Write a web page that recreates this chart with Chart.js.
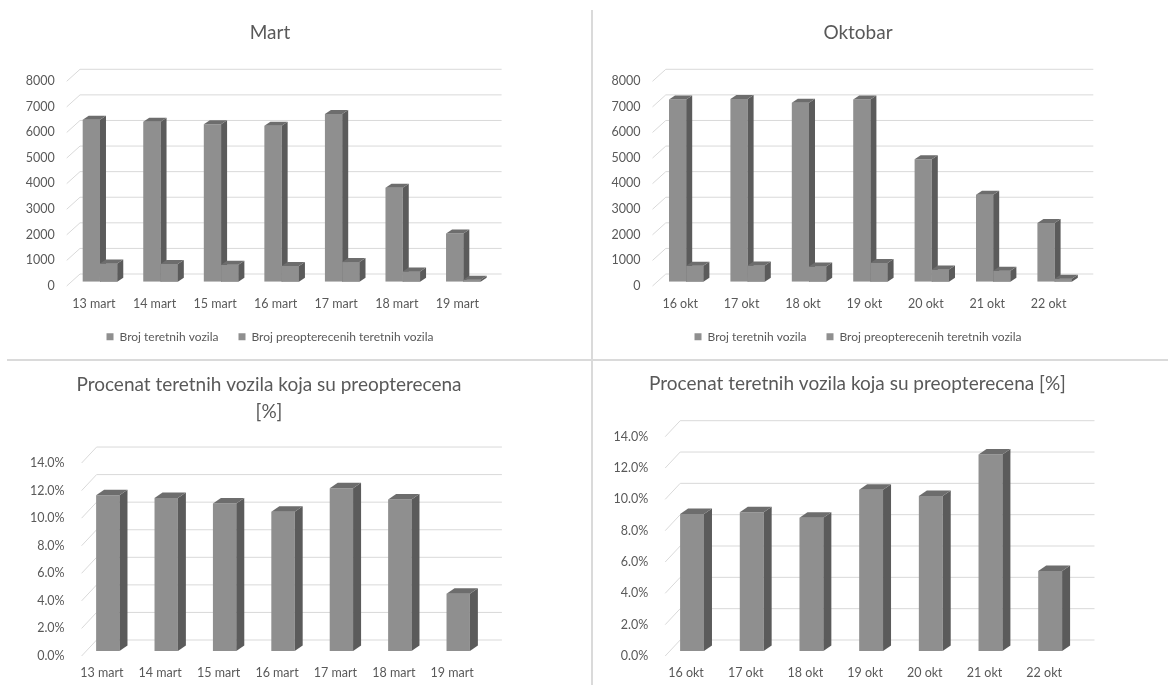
<!DOCTYPE html>
<html>
<head>
<meta charset="utf-8">
<script src="https://cdn.jsdelivr.net/npm/chart.js@4.4.1/dist/chart.umd.min.js"></script>
<style>
  html, body { margin: 0; padding: 0; background: #fff; }
  body { width: 1168px; height: 685px; position: relative; overflow: hidden; }
  .panel { position: absolute; }
  .panel canvas { display: block; }
  .sep { position: absolute; background: #dadada; }
</style>
</head>
<body>
<div class="sep" style="left:591px; top:10px; width:2px; height:675px;"></div>
<div class="sep" style="left:7px; top:359px; width:1161px; height:2px;"></div>

<div class="panel" style="left:0; top:0;"><canvas id="martCount" width="540" height="358"></canvas></div>
<div class="panel" style="left:592px; top:0;"><canvas id="oktCount" width="532" height="358"></canvas></div>
<div class="panel" style="left:0; top:362px;"><canvas id="martShare" width="538" height="323"></canvas></div>
<div class="panel" style="left:592px; top:362px;"><canvas id="oktShare" width="531" height="323"></canvas></div>

<script>
// ---- data ----
const martDays = ['13 mart', '14 mart', '15 mart', '16 mart', '17 mart', '18 mart', '19 mart'];
const martTrucks = [6330, 6250, 6150, 6090, 6550, 3670, 1880];
const martOverloaded = [712, 694, 658, 615, 768, 403, 78];
const martPercent = [11.3, 11.1, 10.7, 10.1, 11.8, 11.0, 4.15];

const oktDays = ['16 okt', '17 okt', '18 okt', '19 okt', '20 okt', '21 okt', '22 okt'];
const oktTrucks = [7120, 7140, 6990, 7120, 4790, 3400, 2290];
const oktOverloaded = [622, 630, 592, 733, 474, 428, 117];
const oktPercent = [8.75, 8.85, 8.5, 10.3, 9.9, 12.55, 5.1];

const countTicks = { max: 8000, step: 1000 };
const percentTicks = { max: 14, step: 2 };

const seriesNames = ['Broj teretnih vozila', 'Broj preopterecenih teretnih vozila'];
const titles = {
  mart: 'Mart',
  okt: 'Oktobar',
  martShare: ['Procenat teretnih vozila koja su preopterecena', '[%]'],
  oktShare: 'Procenat teretnih vozila koja su preopterecena [%]'
};

// ---- style ----
const TEXT = '#595959';
const FRONT = '#8f8f8f';
const SIDE = '#5b5b5b';
const TOP = '#6d6d6d';
const GRID = '#d9d9d9';
Chart.defaults.font.family = 'Lato, "Open Sans", sans-serif';
Chart.defaults.color = TEXT;

function drawFaces(ctx, bar, dx, dy) {
  const p = bar.getProps(['x', 'y', 'base', 'width'], true);
  const l = p.x - p.width / 2, r = p.x + p.width / 2;
  const top = Math.min(p.y, p.base), bot = Math.max(p.y, p.base);
  ctx.fillStyle = SIDE;
  ctx.beginPath();
  ctx.moveTo(r, top); ctx.lineTo(r + dx, top + dy);
  ctx.lineTo(r + dx, bot + dy); ctx.lineTo(r, bot);
  ctx.closePath(); ctx.fill();
  ctx.fillStyle = TOP;
  ctx.beginPath();
  ctx.moveTo(l, top); ctx.lineTo(l + dx, top + dy);
  ctx.lineTo(r + dx, top + dy); ctx.lineTo(r, top);
  ctx.closePath(); ctx.fill();
}

// Pseudo-3D: back-wall gridlines with a receding edge, plus side/top faces on each bar
const depth3d = {
  id: 'depth3d',
  beforeDatasetsDraw(chart, args, o) {
    const { ctx, chartArea: a, scales: { y } } = chart;
    ctx.save();
    ctx.strokeStyle = GRID;
    ctx.lineWidth = 1;
    y.ticks.forEach(t => {
      const py = y.getPixelForValue(t.value);
      const wy = py + o.wallDy;
      ctx.beginPath();
      ctx.moveTo(a.left + o.edgeX, py + o.edgeY);
      ctx.lineTo(a.left + o.wallLeft, wy);
      ctx.lineTo(a.right + o.wallRight, wy);
      ctx.stroke();
    });
    ctx.restore();
  },
  afterDatasetsDraw(chart, args, o) {
    const ctx = chart.ctx;
    ctx.save();
    // left series first; each following series' front face sits over the previous side face
    chart.data.datasets.forEach((ds, i) => {
      const meta = chart.getDatasetMeta(i);
      meta.data.forEach(bar => {
        if (i > 0) bar.draw(ctx);
        drawFaces(ctx, bar, o.faceDx, o.faceDy);
      });
    });
    ctx.restore();
  }
};

function makeChart(id, g) {
  const datasets = g.series.map(s => ({
    label: s.label,
    data: s.data,
    backgroundColor: FRONT,
    borderWidth: 0,
    categoryPercentage: g.catPct,
    barPercentage: 1.0
  }));
  return new Chart(document.getElementById(id), {
    type: 'bar',
    data: { labels: g.labels, datasets },
    plugins: [depth3d],
    options: {
      responsive: false,
      animation: false,
      layout: { padding: { left: 0, right: 0, top: 0, bottom: g.padBottom } },
      plugins: {
        tooltip: { enabled: false },
        title: {
          display: true,
          text: g.title,
          color: TEXT,
          font: { size: 19, weight: 'normal', lineHeight: 1.405 },
          padding: { top: g.titleTop, bottom: g.titleBottom }
        },
        legend: {
          display: g.legend,
          position: 'bottom',
          labels: {
            boxWidth: 7, boxHeight: 7, padding: 20,
            color: TEXT, font: { size: 12 }
          }
        },
        depth3d: g.depth
      },
      scales: {
        x: {
          grid: { display: false, drawTicks: false },
          border: { display: false },
          ticks: { padding: g.xPad, labelOffset: g.xShift, color: TEXT, font: { size: 12.5 }, maxRotation: 0 },
          afterFit: s => { s.height = g.xH; }
        },
        y: {
          min: 0, max: g.yMax,
          grid: { display: false, drawTicks: false },
          border: { display: false },
          ticks: {
            stepSize: g.yStep, padding: g.yPad, labelOffset: g.yShift,
            color: TEXT, font: { size: 12.5 },
            callback: g.fmt
          },
          afterFit: s => { s.width = g.yW; }
        },
        yRight: {
          position: 'right',
          display: true,
          grid: { display: false, drawTicks: false },
          border: { display: false },
          ticks: { display: false },
          afterFit: s => { s.width = g.rW; }
        }
      }
    }
  });
}

const countDepth = { wallDy: -7.7, wallLeft: 10.3, wallRight: 8, edgeX: -3, edgeY: 4.3, faceDx: 6, faceDy: -4 };
const shareDepth = { wallDy: -11, wallLeft: 18, wallRight: 14.5, edgeX: 3, edgeY: 5, faceDx: 8, faceDy: -5.5 };
const fmtCount = v => String(v);
const fmtPct = v => v.toFixed(1) + '%';

function drawAll() {
  makeChart('martCount', {
    labels: martDays,
    series: [{ label: seriesNames[0], data: martTrucks }, { label: seriesNames[1], data: martOverloaded }],
    title: titles.mart, titleTop: 19.65, titleBottom: 30.65,
    legend: true, padBottom: 5.3, xH: 29, xPad: 14.4, xShift: -6,
    yMax: countTicks.max, yStep: countTicks.step, fmt: fmtCount, yPad: 15, yShift: 4,
    yW: 69.7, rW: 46.4, catPct: 0.571, depth: countDepth
  });
  makeChart('oktCount', {
    labels: oktDays,
    series: [{ label: seriesNames[0], data: oktTrucks }, { label: seriesNames[1], data: oktOverloaded }],
    title: titles.okt, titleTop: 19.65, titleBottom: 30.65,
    legend: true, padBottom: 5.3, xH: 29, xPad: 14.4, xShift: -6,
    yMax: countTicks.max, yStep: countTicks.step, fmt: fmtCount, yPad: 15, yShift: 4,
    yW: 63.5, rW: 38.7, catPct: 0.56, depth: countDepth
  });
  makeChart('martShare', {
    labels: martDays,
    series: [{ label: 'Procenat', data: martPercent }],
    title: titles.martShare, titleTop: 9.65, titleBottom: 33,
    legend: false, padBottom: 0, xH: 34, xPad: 14.5, xShift: -6,
    yMax: percentTicks.max, yStep: percentTicks.step, fmt: fmtPct, yPad: 14, yShift: 5,
    yW: 78.6, rW: 50.6, catPct: 0.40, depth: shareDepth
  });
  makeChart('oktShare', {
    labels: oktDays,
    series: [{ label: 'Procenat', data: oktPercent }],
    title: titles.oktShare, titleTop: 8.65, titleBottom: 34.35,
    legend: false, padBottom: 0, xH: 34, xPad: 14.5, xShift: -6,
    yMax: percentTicks.max, yStep: percentTicks.step, fmt: fmtPct, yPad: 14, yShift: 5,
    yW: 70.2, rW: 43, catPct: 0.40, depth: shareDepth
  });
}

if (document.fonts && document.fonts.load) {
  Promise.all([document.fonts.load('12px Lato'), document.fonts.load('19px Lato')]).then(drawAll, drawAll);
} else {
  drawAll();
}
</script>
</body>
</html>
